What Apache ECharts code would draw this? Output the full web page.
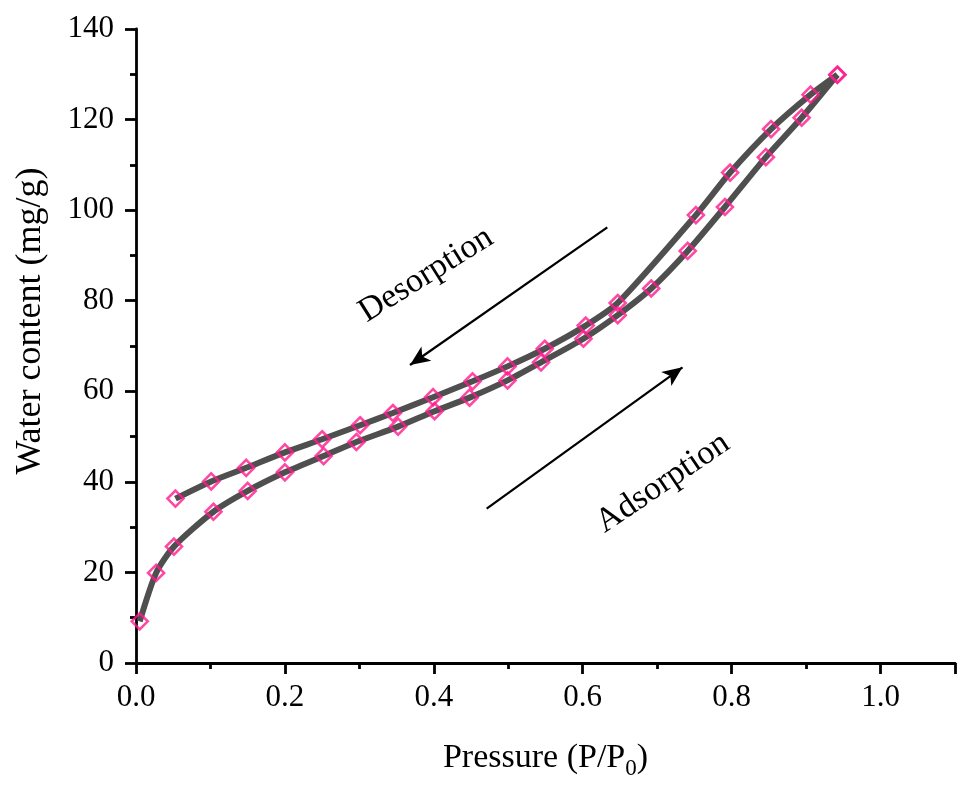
<!DOCTYPE html>
<html>
<head>
<meta charset="utf-8">
<script src="https://cdn.jsdelivr.net/npm/echarts@6/dist/echarts.min.js"></script>
<style>
  html, body { margin: 0; padding: 0; background: #fff; width: 958px; height: 785px; overflow: hidden; }
  #chart { width: 958px; height: 785px; overflow: hidden; }
</style>
</head>
<body>
<div id="chart"></div>
<script>
// Water vapour sorption isotherm: adsorption (rising) and desorption (falling) branches
const adsorptionP = [0.005, 0.027, 0.051, 0.104, 0.150, 0.200, 0.252, 0.296, 0.352, 0.401, 0.448,
                     0.499, 0.544, 0.601, 0.647, 0.692, 0.741, 0.791, 0.846, 0.894, 0.942];
const adsorptionW = [9.2, 19.9, 25.7, 33.4, 38.0, 42.1, 45.7, 48.8, 52.2, 55.6, 58.6,
                     62.4, 66.4, 71.6, 76.8, 82.7, 91.0, 100.7, 111.7, 120.4, 129.9];
const desorptionP = [0.942, 0.906, 0.853, 0.798, 0.752, 0.647, 0.604, 0.549, 0.499, 0.452,
                     0.399, 0.345, 0.301, 0.250, 0.200, 0.148, 0.101, 0.053];
const desorptionW = [129.9, 125.5, 117.9, 108.3, 98.9, 79.5, 74.5, 69.4, 65.5, 62.2,
                     58.7, 55.2, 52.5, 49.4, 46.5, 43.1, 40.1, 36.3];

// Direction arrows, in data coordinates [pressure, water content]
const desorptionArrow = [[0.633, 96.2], [0.368, 65.8]];
const adsorptionArrow = [[0.471, 34.1], [0.734, 65.3]];

const xTicks = { min: 0, max: 1.1, interval: 0.2 };
const yTicks = { min: 0, max: 140, interval: 20 };

const FONT = '"Liberation Serif", "Times New Roman", serif';
const LINE_COLOR = '#4f4f4f';
const MARK_COLOR = '#ff1a8c';

const pairs = (xs, ys) => xs.map((x, i) => [x, ys[i]]);
const ads = pairs(adsorptionP, adsorptionW);
const des = pairs(desorptionP, desorptionW);

const chart = echarts.init(document.getElementById('chart'));

const axisCommon = {
  axisLine: { show: true, onZero: false, lineStyle: { color: '#000', width: 2.8 } },
  axisTick: { show: true, inside: false, length: 11, lineStyle: { color: '#000', width: 2.8 } },
  minorTick: { show: true, splitNumber: 2, length: 6, lineStyle: { color: '#000', width: 2.8 } },
  splitLine: { show: false },
  axisLabel: { color: '#000', fontFamily: FONT, fontSize: 31 },
  nameTextStyle: { color: '#000', fontFamily: FONT, fontSize: 34 }
};

const markerSeries = (name, data) => ({
  name: name + '-markers',
  type: 'scatter',
  data: data,
  symbol: 'diamond',
  symbolSize: [16, 16],
  z: 5,
  itemStyle: { color: 'rgba(0,0,0,0)', borderColor: MARK_COLOR, borderWidth: 2.6 },
  emphasis: { disabled: true },
  silent: true
});

chart.setOption({
  animation: false,
  backgroundColor: '#fff',
  grid: { left: 136, top: 29, width: 829, height: 645, containLabel: false },
  xAxis: Object.assign({}, axisCommon, {
    type: 'value',
    min: xTicks.min, max: xTicks.max, interval: xTicks.interval,
    name: 'Pressure (P/P{sub|0})',
    nameLocation: 'middle',
    nameGap: 74,
    axisLabel: Object.assign({}, axisCommon.axisLabel, {
      margin: 19,
      formatter: v => (v > 1.05 ? '' : v.toFixed(1))
    }),
    nameTextStyle: Object.assign({}, axisCommon.nameTextStyle, {
      rich: {
        sub: { fontFamily: FONT, fontSize: 23, color: '#000', verticalAlign: 'bottom', padding: [20, 0, 0, 0] }
      }
    })
  }),
  yAxis: Object.assign({}, axisCommon, {
    type: 'value',
    min: yTicks.min, max: yTicks.max, interval: yTicks.interval,
    name: 'Water content (mg/g)',
    nameLocation: 'middle',
    nameGap: 87,
    axisLabel: Object.assign({}, axisCommon.axisLabel, { margin: 22 }),
    nameTextStyle: Object.assign({}, axisCommon.nameTextStyle, { fontSize: 36, padding: [0, 0, 0, 50] })
  }),
  series: [
    {
      name: 'Adsorption',
      type: 'line',
      data: ads,
      smooth: 0.25,
      showSymbol: false,
      z: 2,
      lineStyle: { color: LINE_COLOR, width: 6 },
      emphasis: { disabled: true },
      silent: true
    },
    {
      name: 'Desorption',
      type: 'line',
      data: des,
      smooth: 0.25,
      showSymbol: false,
      z: 2,
      lineStyle: { color: LINE_COLOR, width: 6 },
      emphasis: { disabled: true },
      silent: true,
      markLine: {
        silent: true,
        symbol: ['none', 'arrow'],
        symbolSize: [13, 20],
        label: { show: false },
        lineStyle: { color: '#000', width: 2.2, type: 'solid' },
        emphasis: { disabled: true },
        data: [
          [{ coord: desorptionArrow[0] }, { coord: desorptionArrow[1] }],
          [{ coord: adsorptionArrow[0] }, { coord: adsorptionArrow[1] }]
        ]
      }
    },
    markerSeries('Adsorption', ads),
    markerSeries('Desorption', des)
  ],
  graphic: [
    {
      type: 'text', x: 426, y: 275, rotation: 32 * Math.PI / 180,
      style: { text: 'Desorption', fontFamily: FONT, fontSize: 34, fill: '#000', align: 'center', verticalAlign: 'middle' }
    },
    {
      type: 'text', x: 663, y: 483, rotation: 34 * Math.PI / 180,
      style: { text: 'Adsorption', fontFamily: FONT, fontSize: 34, fill: '#000', align: 'center', verticalAlign: 'middle' }
    }
  ]
});
</script>
</body>
</html>
